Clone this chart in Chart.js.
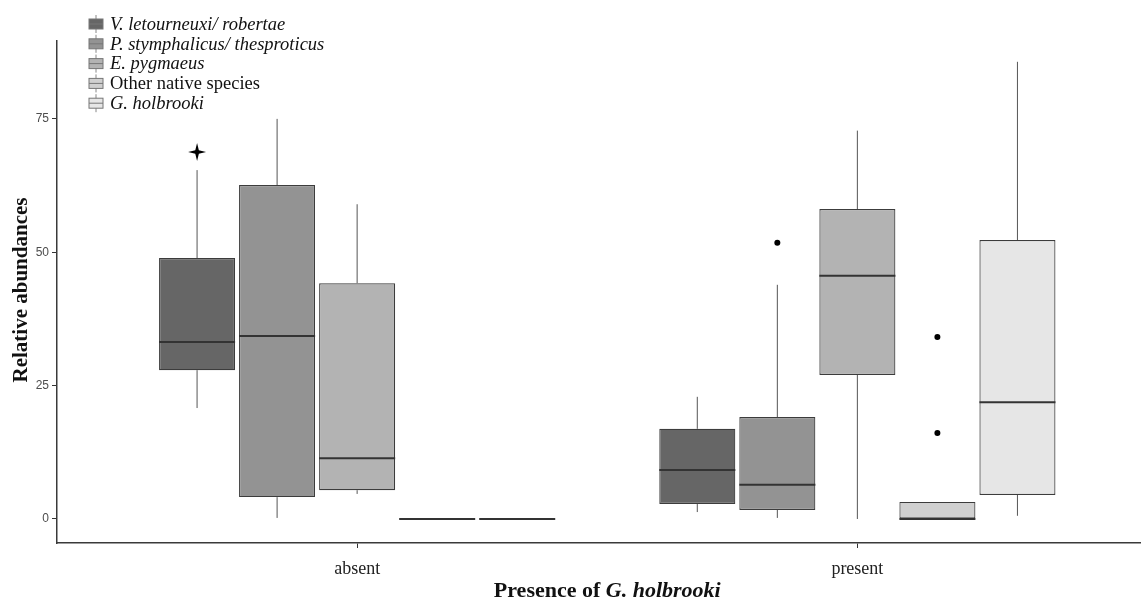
<!DOCTYPE html>
<html>
<head>
<meta charset="utf-8">
<script src="https://cdn.jsdelivr.net/npm/chart.js@4.4.1/dist/chart.umd.min.js"></script>
<style>
  body { margin: 0; background: #fff; }
  #wrap { width: 1141px; height: 603px; }
</style>
</head>
<body>
<div id="wrap"><canvas id="boxChart"></canvas></div>
<script>
// Groups on the x axis and the species (one box per species per group)
const groups = ['absent', 'present'];
const species = ['V. letourneuxi/ robertae', 'P. stymphalicus/ thesproticus', 'E. pygmaeus', 'Other native species', 'G. holbrooki'];
const italicName = [true, true, true, false, true];
const fills = ['#666666', '#939393', '#b3b3b3', '#d0d0d0', '#e6e6e6'];

// Box statistics, [absent, present] for each species
const whiskerLow  = [[20.8, 1.3], [0.2, 0.2], [4.7, 0.0], [0, 0], [0, 0.6]];
const q1          = [[27.9, 2.8], [4.1, 1.7], [5.4, 27.0], [0, 0], [0, 4.5]];
const median      = [[33.2, 9.2], [34.3, 6.4], [11.4, 45.6], [0, 0], [0, 21.9]];
const q3          = [[48.9, 16.9], [62.6, 19.1], [44.2, 58.1], [0, 3.2], [0, 52.3]];
const whiskerHigh = [[65.4, 22.9], [75.0, 43.9], [59.0, 72.8], [0, 3.2], [0, 85.7]];
const outliers    = [[[68.8], []], [[], [51.8]], [[], []], [[], [34.1, 16.1]], [[], []]];

const yTicks = [0, 25, 50, 75];

const datasets = species.map(function (name, s) {
    return {
        label: name,
        data: groups.map(function (g, gi) { return { x: gi, y: [q1[s][gi], q3[s][gi]] }; }),
        backgroundColor: fills[s],
        borderColor: '#3c3c3c',
        borderWidth: 1.2,
        borderSkipped: false,
        categoryPercentage: 0.8,
        barPercentage: 0.95
    };
});

function drawStar(ctx, x, y, r) {
    ctx.beginPath();
    for (let k = 0; k < 8; k++) {
        const a = k * Math.PI / 4 - Math.PI / 2;
        const rr = k % 2 === 0 ? r : r * 0.28;
        ctx.lineTo(x + rr * Math.cos(a), y + rr * Math.sin(a));
    }
    ctx.closePath();
    ctx.fill();
}

// whiskers, medians, outliers, titles and the legend
const boxExtras = {
    id: 'boxExtras',
    afterDatasetsDraw(chart) {
        const ctx = chart.ctx;
        const yScale = chart.scales.y;
        ctx.save();
        species.forEach(function (name, s) {
            const meta = chart.getDatasetMeta(s);
            meta.data.forEach(function (bar, gi) {
                const x = bar.x;
                const half = bar.width / 2;
                ctx.strokeStyle = '#555';
                ctx.lineWidth = 1;
                if (whiskerHigh[s][gi] > q3[s][gi]) {
                    ctx.beginPath();
                    ctx.moveTo(x, yScale.getPixelForValue(q3[s][gi]));
                    ctx.lineTo(x, yScale.getPixelForValue(whiskerHigh[s][gi]));
                    ctx.stroke();
                }
                if (whiskerLow[s][gi] < q1[s][gi]) {
                    ctx.beginPath();
                    ctx.moveTo(x, yScale.getPixelForValue(q1[s][gi]));
                    ctx.lineTo(x, yScale.getPixelForValue(whiskerLow[s][gi]));
                    ctx.stroke();
                }
                ctx.strokeStyle = '#333';
                ctx.lineWidth = 2;
                const my = yScale.getPixelForValue(median[s][gi]);
                ctx.beginPath();
                ctx.moveTo(x - half, my);
                ctx.lineTo(x + half, my);
                ctx.stroke();
                ctx.fillStyle = '#000';
                outliers[s][gi].forEach(function (v) {
                    const oy = yScale.getPixelForValue(v);
                    if (s === 0) {
                        drawStar(ctx, x, oy, 9);
                    } else {
                        ctx.beginPath();
                        ctx.arc(x, oy, 3, 0, Math.PI * 2);
                        ctx.fill();
                    }
                });
            });
        });
        ctx.restore();
    },
    afterDraw(chart) {
        const ctx = chart.ctx;
        const xScale = chart.scales.x;
        ctx.save();
        ctx.fillStyle = '#111';

        // y title
        ctx.save();
        ctx.translate(22, 290);
        ctx.rotate(-Math.PI / 2);
        ctx.font = 'bold 21px "Liberation Serif"';
        ctx.textAlign = 'center';
        ctx.textBaseline = 'middle';
        ctx.fillText('Relative abundances', 0, 0);
        ctx.restore();

        // x title with italic species name
        const cx = (xScale.getPixelForValue(-0.6) + xScale.getPixelForValue(1.6)) / 2;
        const p1 = 'Presence of ';
        const p2 = 'G. holbrooki';
        ctx.textBaseline = 'middle';
        ctx.textAlign = 'left';
        ctx.font = 'bold 22px "Liberation Serif"';
        const w1 = ctx.measureText(p1).width;
        ctx.font = 'italic bold 22px "Liberation Serif"';
        const w2 = ctx.measureText(p2).width;
        const sx = cx - (w1 + w2) / 2;
        ctx.font = 'bold 22px "Liberation Serif"';
        ctx.fillText(p1, sx, 591);
        ctx.font = 'italic bold 22px "Liberation Serif"';
        ctx.fillText(p2, sx + w1, 591);

        // legend
        const lx = 96, ly0 = 24, step = 19.8;
        species.forEach(function (name, s) {
            const y = ly0 + s * step;
            ctx.strokeStyle = '#888';
            ctx.lineWidth = 1;
            ctx.beginPath();
            ctx.moveTo(lx, y - 9);
            ctx.lineTo(lx, y + 9);
            ctx.stroke();
            ctx.fillStyle = fills[s];
            ctx.fillRect(lx - 7, y - 5, 14, 10);
            ctx.strokeStyle = '#777';
            ctx.strokeRect(lx - 7, y - 5, 14, 10);
            ctx.beginPath();
            ctx.moveTo(lx - 7, y);
            ctx.lineTo(lx + 7, y);
            ctx.stroke();
            ctx.fillStyle = '#111';
            ctx.font = (italicName[s] ? 'italic ' : '') + '18.5px "Liberation Serif"';
            ctx.textAlign = 'left';
            ctx.textBaseline = 'middle';
            ctx.fillText(name, lx + 14, y + 1);
        });
        ctx.restore();
    }
};

new Chart(document.getElementById('boxChart'), {
    type: 'bar',
    data: { datasets: datasets },
    options: {
        responsive: true,
        maintainAspectRatio: false,
        animation: false,
        layout: { padding: { top: 41, right: 0, left: 0, bottom: 0 } },
        plugins: {
            legend: { display: false },
            tooltip: { enabled: false }
        },
        scales: {
            x: {
                type: 'linear',
                offset: false,
                min: -0.6,
                max: 1.567,
                afterBuildTicks: function (scale) {
                    scale.ticks = groups.map(function (g, i) { return { value: i }; });
                },
                afterFit: function (scale) { scale.height = 60; },
                ticks: {
                    callback: function (value) { return groups[value]; },
                    font: { family: 'Liberation Serif', size: 18 },
                    color: '#222',
                    padding: 10,
                    maxRotation: 0
                },
                grid: { offset: false, drawOnChartArea: false, drawTicks: true, tickLength: 5, color: '#333' },
                border: { display: true, color: '#3a3a3a', width: 1.5 }
            },
            y: {
                min: -4.5,
                max: 89.6,
                afterBuildTicks: function (scale) {
                    scale.ticks = yTicks.map(function (v) { return { value: v }; });
                },
                afterFit: function (scale) { scale.width = 57; },
                ticks: {
                    font: { family: 'Liberation Sans', size: 12 },
                    color: '#4d4d4d',
                    padding: 3
                },
                grid: { drawOnChartArea: false, drawTicks: true, tickLength: 5, color: '#333' },
                border: { display: true, color: '#3a3a3a', width: 1.5 }
            }
        }
    },
    plugins: [boxExtras]
});
</script>
</body>
</html>
